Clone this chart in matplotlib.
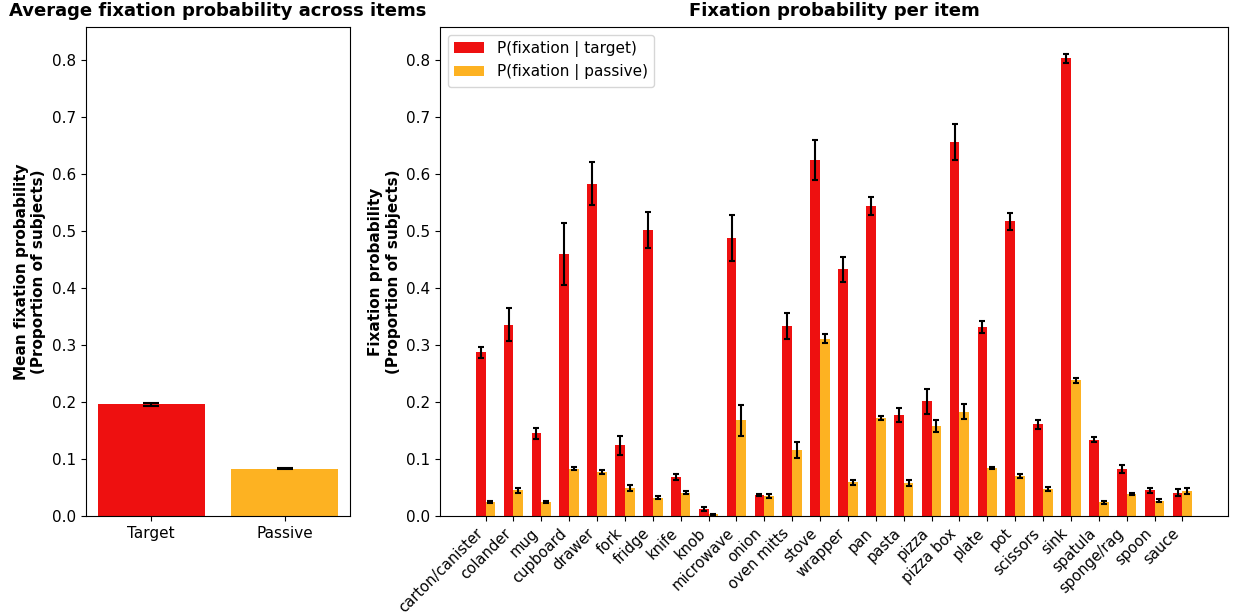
import numpy as np
import matplotlib
matplotlib.use("Agg")
import matplotlib.pyplot as plt

# ---- data ----
items = ["carton/canister", "colander", "mug", "cupboard", "drawer", "fork", "fridge",
         "knife", "knob", "microwave", "onion", "oven mitts", "stove", "wrapper", "pan",
         "pasta", "pizza", "pizza box", "plate", "pot", "scissors", "sink", "spatula",
         "sponge/rag", "spoon", "sauce"]
target_mean = [0.287, 0.336, 0.145, 0.460, 0.583, 0.124, 0.502, 0.069, 0.012, 0.488,
               0.037, 0.333, 0.624, 0.433, 0.544, 0.177, 0.201, 0.656, 0.332, 0.517,
               0.161, 0.803, 0.134, 0.082, 0.045, 0.041]
target_err = [0.010, 0.029, 0.010, 0.055, 0.038, 0.017, 0.032, 0.005, 0.003, 0.040,
              0.002, 0.023, 0.035, 0.022, 0.015, 0.012, 0.022, 0.032, 0.011, 0.015,
              0.008, 0.008, 0.005, 0.007, 0.004, 0.006]
passive_mean = [0.024, 0.045, 0.025, 0.083, 0.077, 0.049, 0.032, 0.041, 0.003, 0.168,
                0.035, 0.116, 0.311, 0.059, 0.172, 0.058, 0.158, 0.183, 0.084, 0.070,
                0.047, 0.238, 0.024, 0.039, 0.027, 0.044]
passive_err = [0.002, 0.004, 0.002, 0.003, 0.003, 0.005, 0.003, 0.003, 0.001, 0.027,
               0.003, 0.014, 0.008, 0.004, 0.003, 0.006, 0.011, 0.013, 0.002, 0.004,
               0.003, 0.004, 0.003, 0.002, 0.002, 0.005]
avg_labels = ["Target", "Passive"]
avg_mean = [0.196, 0.083]
avg_err = [0.003, 0.001]

RED = "#ee1010"
ORANGE = "#fdb222"

fig = plt.figure(figsize=(12.35, 6.15), dpi=100)
ax1 = fig.add_axes([0.0696, 0.161, 0.2138, 0.795])
ax2 = fig.add_axes([0.3563, 0.161, 0.6380, 0.795])

# left panel
ax1.bar(np.arange(len(avg_labels)), avg_mean, width=0.8, color=[RED, ORANGE],
        yerr=avg_err, capsize=6, error_kw=dict(ecolor="black", elinewidth=1.5, capthick=1.5))
ax1.set_xticks(np.arange(len(avg_labels)))
ax1.set_xticklabels(avg_labels, fontsize=11)
ax1.set_ylim(0, 0.858)
ax1.set_yticks(np.arange(0, 0.81, 0.1))
ax1.tick_params(axis="y", labelsize=11)
ax1.set_ylabel("Mean fixation probability\n(Proportion of subjects)", fontsize=11, fontweight="bold")
ax1.set_title("Average fixation probability across items", fontsize=13, fontweight="bold", pad=8)

# right panel
x = np.arange(len(items))
w = 0.35
ekw = dict(ecolor="black", elinewidth=1.5, capthick=1.5)
ax2.bar(x - w / 2, target_mean, width=w, color=RED, yerr=target_err, capsize=2.5,
        error_kw=ekw, label="P(fixation | target)")
ax2.bar(x + w / 2, passive_mean, width=w, color=ORANGE, yerr=passive_err, capsize=2.5,
        error_kw=ekw, label="P(fixation | passive)")
ax2.set_xticks(x)
ax2.set_xticklabels(items, rotation=45, ha="right", fontsize=10.6)
ax2.set_ylim(0, 0.858)
ax2.set_yticks(np.arange(0, 0.81, 0.1))
ax2.tick_params(axis="y", labelsize=11)
ax2.set_ylabel("Fixation probability\n(Proportion of subjects)", fontsize=11, fontweight="bold")
ax2.set_title("Fixation probability per item", fontsize=13, fontweight="bold", pad=8)
ax2.legend(loc="upper left", fontsize=11)

fig.savefig("out.png", dpi=100)
